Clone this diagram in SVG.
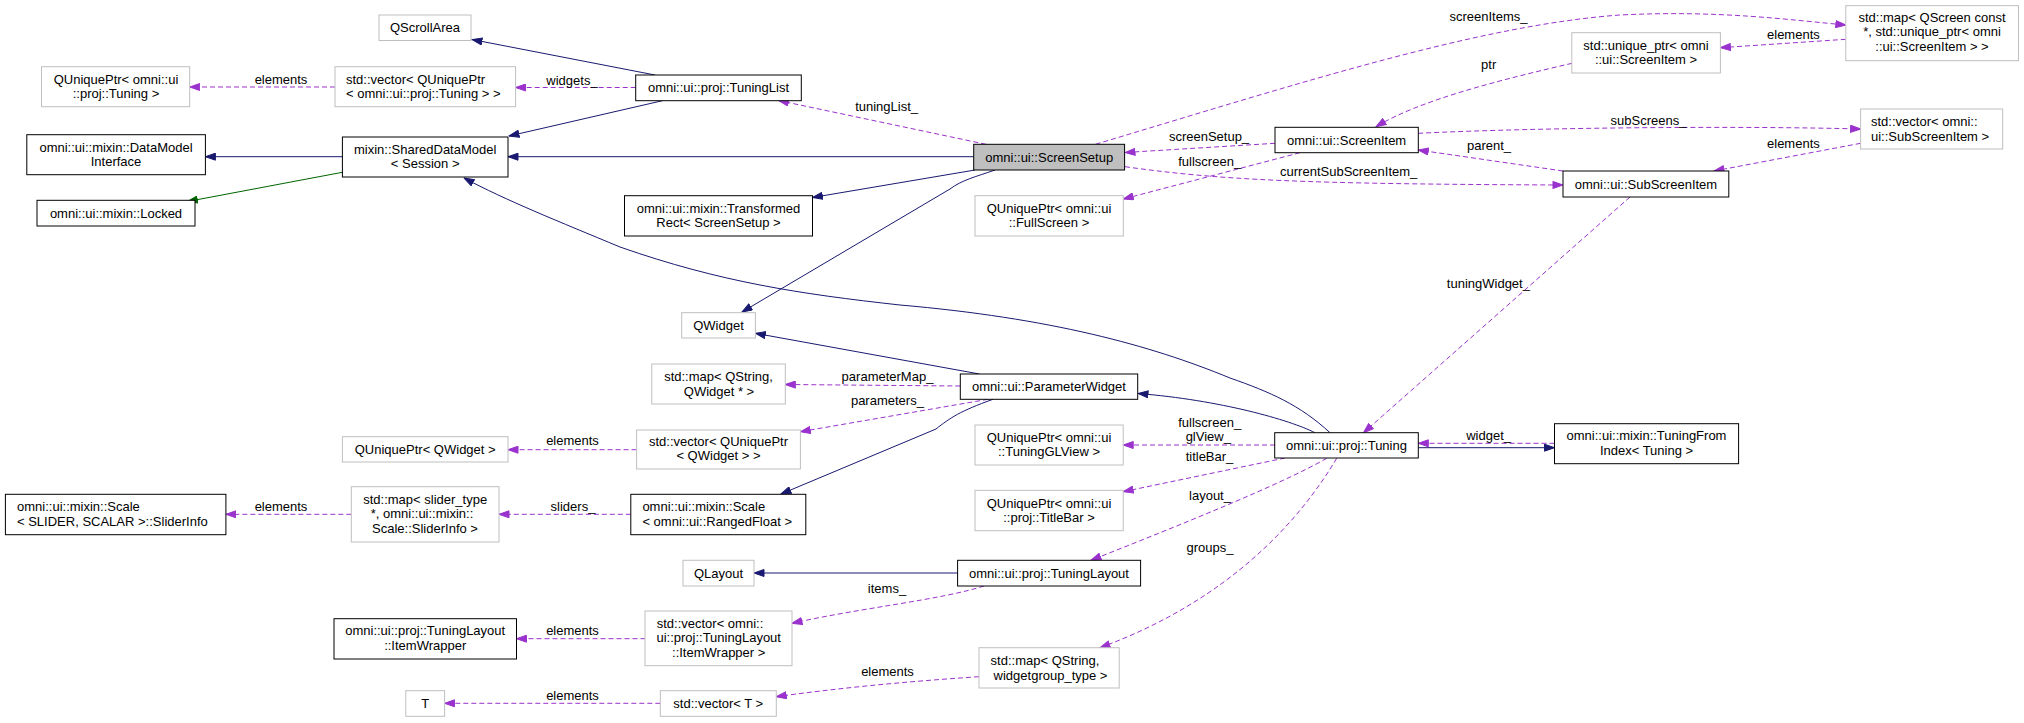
<svg xmlns="http://www.w3.org/2000/svg" width="2024" height="723" viewBox="0 0 2024 723">
<style>
text{font-family:"Liberation Sans",Arial,sans-serif;font-size:13px;fill:#000}
.m{text-anchor:middle}
.s{text-anchor:start}
.n{fill:#fff;stroke:#000;stroke-width:1}
.u{fill:#fff;stroke:#bfbfbf;stroke-width:1}
.r{fill:#bfbfbf;stroke:#000;stroke-width:1}
.inh{fill:none;stroke:#191970;stroke-width:1;marker-end:url(#an)}
.grn{fill:none;stroke:#006400;stroke-width:1;marker-end:url(#ag)}
.use{fill:none;stroke:#9a32cd;stroke-width:1;stroke-dasharray:5,3;marker-end:url(#ap)}
</style>
<defs>
<marker id="an" markerWidth="11" markerHeight="8" refX="10.5" refY="4" orient="auto" markerUnits="userSpaceOnUse" viewBox="0 0 11 8"><path d="M0.5,0.5L10.5,4L0.5,7.5z" fill="#191970" stroke="#191970"/></marker>
<marker id="ag" markerWidth="11" markerHeight="8" refX="10.5" refY="4" orient="auto" markerUnits="userSpaceOnUse" viewBox="0 0 11 8"><path d="M0.5,0.5L10.5,4L0.5,7.5z" fill="#006400" stroke="#006400"/></marker>
<marker id="ap" markerWidth="11" markerHeight="8" refX="10.5" refY="4" orient="auto" markerUnits="userSpaceOnUse" viewBox="0 0 11 8"><path d="M0.5,0.5L10.5,4L0.5,7.5z" fill="#9a32cd" stroke="#9a32cd"/></marker>
</defs>
<rect x="0" y="0" width="2024" height="723" fill="#fff"/>

<g id="connectors">
<path class="inh" d="M655,75 L472,39.5"/>
<path class="inh" d="M662.5,100.7 L509,136"/>
<path class="inh" d="M973.7,156.7 L508,156.7"/>
<path class="inh" d="M342.4,156.7 L205.4,156.7"/>
<path class="grn" d="M342.4,172.3 L187.5,201.5"/>
<path class="inh" d="M975,170 L812.5,197.5"/>
<path class="inh" d="M995,170 C975,177 962,180 950,189 L742,312"/>
<path class="inh" d="M979.5,374 L755.4,333.3"/>
<path class="inh" d="M993,399.3 C960,411 950,418 936,429 L781,494"/>
<path class="inh" d="M1315,432.7 C1290,420 1220,400 1138,393.5"/>
<path class="inh" d="M1330,432.7 C1300,405 1270,392 1230,378 C1150,345 1050,318 900,305 C800,294 720,282 620,247 C560,222 505,200 464,178"/>
<path class="inh" d="M957.6,573 L754,573"/>
<path class="inh" d="M1418.3,447.7 L1554.5,447.7"/>

<path class="use" d="M635.7,87.5 L515.6,87.5"/>
<path class="use" d="M335,87 L189.7,87"/>
<path class="use" d="M986,144.3 L778.6,100.5"/>
<path class="use" d="M1095.5,144.3 C1300,83 1480,25 1620,15 C1720,10 1790,20 1845.8,25"/>
<path class="use" d="M1845.8,39.3 L1720.4,47.7"/>
<path class="use" d="M1572,63.3 C1500,80 1420,100 1376,126.7"/>
<path class="use" d="M1275,143.3 L1125,152.5"/>
<path class="use" d="M1300,152.7 L1123.3,199"/>
<path class="use" d="M1125,166.7 C1220,180 1300,184 1563,185"/>
<path class="use" d="M1418.3,133.3 C1550,127 1750,126 1860.6,129"/>
<path class="use" d="M1563,171 L1418.3,150"/>
<path class="use" d="M1860.6,143.3 L1714,171"/>
<path class="use" d="M1630,197 L1363.5,432.7"/>
<path class="use" d="M1554.5,443.3 L1418.3,443.3"/>
<path class="use" d="M960.3,386 L785.3,384.5"/>
<path class="use" d="M988,399.3 L800.4,431.7"/>
<path class="use" d="M636.6,449.7 L508,449.7"/>
<path class="use" d="M1275,445 L1123.2,445"/>
<path class="use" d="M1285,458 L1123.2,491.7"/>
<path class="use" d="M1326.7,458.3 C1280,485 1180,525 1091,560.3"/>
<path class="use" d="M1336.7,458.3 C1300,520 1230,600 1100,647.7"/>
<path class="use" d="M984,586 C940,600 860,608 792,623.3"/>
<path class="use" d="M645.5,638.7 L516.5,638.7"/>
<path class="use" d="M979,676.7 C900,682 840,688 776.3,696.7"/>
<path class="use" d="M660.3,703.3 L444.6,703.3"/>
<path class="use" d="M351.3,514.3 L225.9,514.3"/>
<path class="use" d="M630.8,514.3 L499,514.3"/>

<text class="m" x="281" y="83.5">elements</text>
<text class="m" x="572" y="84.5">widgets_</text>
<text class="m" x="886.6" y="111">tuningList_</text>
<text class="m" x="1209" y="141">screenSetup_</text>
<text class="m" x="1209.7" y="165.5">fullscreen_</text>
<text class="m" x="1348.7" y="176">currentSubScreenItem_</text>
<text class="m" x="1489" y="149.5">parent_</text>
<text class="m" x="1488.5" y="21">screenItems_</text>
<text class="m" x="1793.4" y="39">elements</text>
<text class="m" x="1488.7" y="68.5">ptr</text>
<text class="m" x="1648.5" y="125">subScreens_</text>
<text class="m" x="1793.4" y="148">elements</text>
<text class="m" x="1488.4" y="288">tuningWidget_</text>
<text class="m" x="1488.6" y="440">widget_</text>
<text class="m" x="887.5" y="381">parameterMap_</text>
<text class="m" x="887.4" y="405">parameters_</text>
<text class="m" x="572.5" y="445">elements</text>
<text class="m" x="1209.7" y="427">fullscreen_</text>
<text class="m" x="1208.3" y="441">glView_</text>
<text class="m" x="1209.5" y="461">titleBar_</text>
<text class="m" x="1210" y="499.5">layout_</text>
<text class="m" x="1210" y="552">groups_</text>
<text class="m" x="887" y="593">items_</text>
<text class="m" x="887.5" y="676">elements</text>
<text class="m" x="281" y="511">elements</text>
<text class="m" x="573" y="511">sliders_</text>
<text class="m" x="572.5" y="635">elements</text>
<text class="m" x="572.5" y="700">elements</text>
</g>

<g id="QScrollArea"><rect class="u" x="379" y="15" width="92" height="25.5"/><text class="m" x="425" y="32">QScrollArea</text></g>
<g id="QUniquePtrTuning"><rect class="u" x="41.5" y="66.7" width="148.2" height="40"/><text class="m" x="116" y="83.5">QUniquePtr&lt; omni::ui</text><text class="m" x="116" y="98">::proj::Tuning &gt;</text></g>
<g id="VectorQUniquePtrTuning"><rect class="u" x="335" y="66.7" width="180.6" height="40"/><text class="s" x="346" y="83.5">std::vector&lt; QUniquePtr</text><text class="s" x="346" y="98">&lt; omni::ui::proj::Tuning &gt; &gt;</text></g>
<g id="DataModelInterface"><rect class="n" x="26.8" y="134.7" width="178.6" height="40"/><text class="m" x="116" y="151.5">omni::ui::mixin::DataModel</text><text class="m" x="116" y="166">Interface</text></g>
<g id="SharedDataModel"><rect class="n" x="342.4" y="137" width="165.6" height="40"/><text class="m" x="425.2" y="153.5">mixin::SharedDataModel</text><text class="m" x="425.2" y="168">&lt; Session &gt;</text></g>
<g id="Locked"><rect class="n" x="37" y="200.3" width="158" height="25.7"/><text class="m" x="116" y="217.7">omni::ui::mixin::Locked</text></g>
<g id="TuningList"><rect class="n" x="635.7" y="75" width="165.6" height="25.7"/><text class="m" x="718.5" y="92.3">omni::ui::proj::TuningList</text></g>
<g id="ScreenSetup"><rect class="r" x="973.7" y="144.3" width="150.9" height="25.7"/><text class="m" x="1049.2" y="161.7">omni::ui::ScreenSetup</text></g>
<g id="TransformedRect"><rect class="n" x="624.5" y="195.7" width="188" height="40.3"/><text class="m" x="718.5" y="212.8">omni::ui::mixin::Transformed</text><text class="m" x="718.5" y="227.2">Rect&lt; ScreenSetup &gt;</text></g>
<g id="QUniquePtrFullScreen"><rect class="u" x="975" y="195.7" width="148.3" height="40.3"/><text class="m" x="1049" y="212.8">QUniquePtr&lt; omni::ui</text><text class="m" x="1049" y="227.2">::FullScreen &gt;</text></g>
<g id="ScreenItem"><rect class="n" x="1275" y="127.3" width="143.3" height="25.4"/><text class="m" x="1346.6" y="144.5">omni::ui::ScreenItem</text></g>
<g id="UniquePtrScreenItem"><rect class="u" x="1571.8" y="32.7" width="148.6" height="40.3"/><text class="m" x="1646" y="49.5">std::unique_ptr&lt; omni</text><text class="m" x="1646" y="64">::ui::ScreenItem &gt;</text></g>
<g id="MapQScreen"><rect class="u" x="1845.8" y="5.7" width="172.7" height="55"/><text class="m" x="1932" y="21.8">std::map&lt; QScreen const</text><text class="m" x="1932" y="36.3">*, std::unique_ptr&lt; omni</text><text class="m" x="1932" y="50.8">::ui::ScreenItem &gt; &gt;</text></g>
<g id="VectorSubScreenItem"><rect class="u" x="1860.6" y="109" width="142.1" height="40"/><text class="s" x="1871" y="126.3">std::vector&lt; omni::</text><text class="s" x="1871" y="140.7">ui::SubScreenItem &gt;</text></g>
<g id="SubScreenItem"><rect class="n" x="1563" y="171" width="165.8" height="26"/><text class="m" x="1646" y="188.5">omni::ui::SubScreenItem</text></g>
<g id="QWidget"><rect class="u" x="681.7" y="312.7" width="73.7" height="25.3"/><text class="m" x="718.5" y="329.8">QWidget</text></g>
<g id="MapQStringQWidget"><rect class="u" x="651.8" y="364" width="133.5" height="40"/><text class="m" x="718.5" y="381">std::map&lt; QString,</text><text class="m" x="719" y="395.5">QWidget * &gt;</text></g>
<g id="ParameterWidget"><rect class="n" x="960.3" y="374" width="177.4" height="25.3"/><text class="m" x="1049" y="391">omni::ui::ParameterWidget</text></g>
<g id="VectorQUniquePtrQWidget"><rect class="u" x="636.6" y="430" width="163.8" height="39"/><text class="m" x="718.5" y="445.5">std::vector&lt; QUniquePtr</text><text class="m" x="718.5" y="460">&lt; QWidget &gt; &gt;</text></g>
<g id="QUniquePtrQWidget"><rect class="u" x="342.4" y="436.7" width="165.6" height="25.3"/><text class="m" x="425.2" y="453.8">QUniquePtr&lt; QWidget &gt;</text></g>
<g id="QUniquePtrTuningGLView"><rect class="u" x="975" y="425" width="148.2" height="40"/><text class="m" x="1049" y="441.5">QUniquePtr&lt; omni::ui</text><text class="m" x="1049" y="456">::TuningGLView &gt;</text></g>
<g id="Tuning"><rect class="n" x="1274.7" y="432.7" width="143.6" height="25.3"/><text class="m" x="1346.5" y="449.8">omni::ui::proj::Tuning</text></g>
<g id="TuningFromIndex"><rect class="n" x="1554.5" y="423.7" width="184.1" height="40"/><text class="m" x="1646.5" y="439.8">omni::ui::mixin::TuningFrom</text><text class="m" x="1646.5" y="454.5">Index&lt; Tuning &gt;</text></g>
<g id="SliderInfo"><rect class="n" x="5.4" y="494.3" width="220.5" height="40.4"/><text class="s" x="17" y="511">omni::ui::mixin::Scale</text><text class="s" x="17" y="525.5">&lt; SLIDER, SCALAR &gt;::SliderInfo</text></g>
<g id="MapSliderType"><rect class="u" x="351.3" y="486.7" width="147.7" height="55.3"/><text class="m" x="425.2" y="503.5">std::map&lt; slider_type</text><text class="m" x="422" y="518">*, omni::ui::mixin::</text><text class="m" x="425" y="532.5">Scale::SliderInfo &gt;</text></g>
<g id="ScaleRangedFloat"><rect class="n" x="630.8" y="494.3" width="175" height="40.4"/><text class="s" x="642.4" y="511">omni::ui::mixin::Scale</text><text class="s" x="642.4" y="525.5">&lt; omni::ui::RangedFloat &gt;</text></g>
<g id="QUniquePtrTitleBar"><rect class="u" x="975" y="490.3" width="148.2" height="40.4"/><text class="m" x="1049" y="507.8">QUniquePtr&lt; omni::ui</text><text class="m" x="1049" y="522">::proj::TitleBar &gt;</text></g>
<g id="QLayout"><rect class="u" x="683" y="560.3" width="71" height="25.7"/><text class="m" x="718.5" y="577.5">QLayout</text></g>
<g id="TuningLayout"><rect class="n" x="957.6" y="560.3" width="183" height="25.7"/><text class="m" x="1049" y="577.5">omni::ui::proj::TuningLayout</text></g>
<g id="ItemWrapper"><rect class="n" x="334" y="618.7" width="182.5" height="40.3"/><text class="m" x="425.2" y="635.2">omni::ui::proj::TuningLayout</text><text class="m" x="425.2" y="649.5">::ItemWrapper</text></g>
<g id="VectorItemWrapper"><rect class="u" x="645" y="611" width="147" height="54.7"/><text class="s" x="656.7" y="627.8">std::vector&lt; omni::</text><text class="m" x="718.7" y="642.2">ui::proj::TuningLayout</text><text class="m" x="718.7" y="657">::ItemWrapper &gt;</text></g>
<g id="MapWidgetGroup"><rect class="u" x="979" y="647.7" width="140.2" height="40.3"/><text class="s" x="990.6" y="665">std::map&lt; QString,</text><text class="m" x="1050.5" y="679.5">widgetgroup_type &gt;</text></g>
<g id="VectorT"><rect class="u" x="660.3" y="690.7" width="116" height="25.6"/><text class="m" x="718.3" y="708">std::vector&lt; T &gt;</text></g>
<g id="T"><rect class="u" x="405.8" y="690.7" width="38.8" height="25.6"/><text class="m" x="425.2" y="708">T</text></g>
</svg>
